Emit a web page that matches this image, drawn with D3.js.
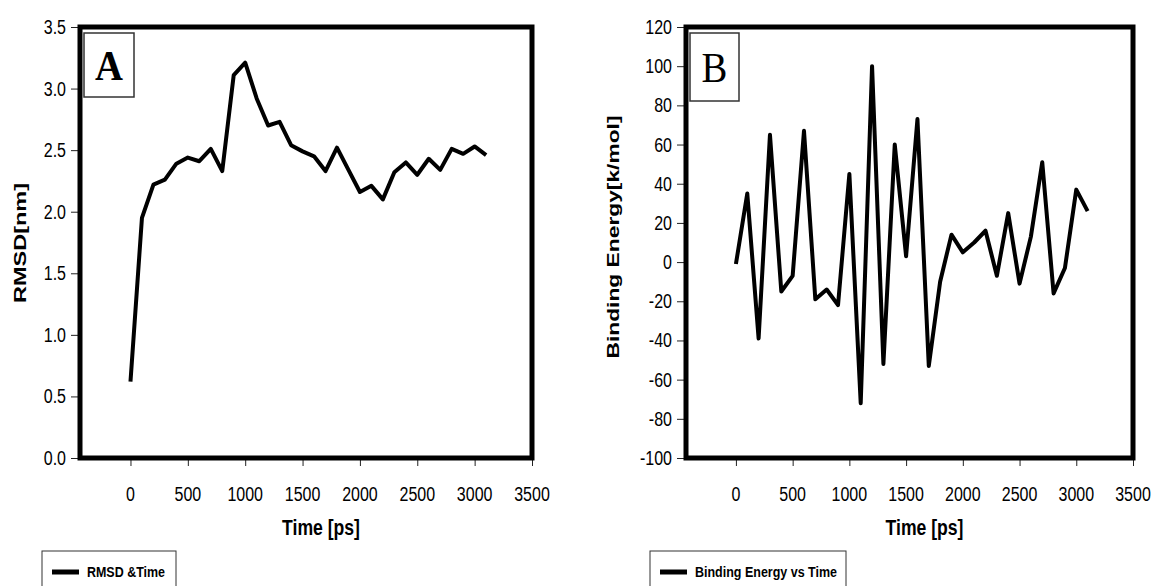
<!DOCTYPE html>
<html lang="en">
<head>
  <meta charset="UTF-8">
  <title>RMSD and Binding Energy vs Time</title>
  <script src="https://cdn.jsdelivr.net/npm/d3@7/dist/d3.min.js"></script>
  <style>
    body {
      margin: 0;
      background: #fff;
    }
    svg text {
      font-family: "Liberation Sans", Arial, sans-serif;
      fill: #000;
    }
  </style>
</head>
<body>
  <svg id="chart" width="1155" height="586"></svg>

  <script>
    // simulation time (ps)
    const timePs = [0, 100, 200, 300, 400, 500, 600, 700, 800, 900, 1000, 1100, 1200, 1300, 1400, 1500,
      1600, 1700, 1800, 1900, 2000, 2100, 2200, 2300, 2400, 2500, 2600, 2700, 2800, 2900, 3000, 3100];

    // panel A - RMSD (nm)
    const rmsd = [0.62, 1.95, 2.22, 2.26, 2.39, 2.44, 2.41, 2.51, 2.33, 3.11, 3.21, 2.92, 2.70, 2.73, 2.54, 2.49,
      2.45, 2.33, 2.52, 2.34, 2.16, 2.21, 2.10, 2.32, 2.40, 2.30, 2.43, 2.34, 2.51, 2.47, 2.53, 2.46];

    // panel B - binding energy (k/mol)
    const energy = [-1, 35, -39, 65, -15, -7, 67, -19, -14, -22, 45, -72, 100, -52, 60, 3,
      73, -53, -10, 14, 5, 10, 16, -7, 25, -11, 13, 51, -16, -3, 37, 26];

    // tick labels
    const xTicks = [0, 500, 1000, 1500, 2000, 2500, 3000, 3500];
    const rmsdTicks = [0, 0.5, 1.0, 1.5, 2.0, 2.5, 3.0, 3.5];
    const energyTicks = [-100, -80, -60, -40, -20, 0, 20, 40, 60, 80, 100, 120];

    const svg = d3.select("#chart");
    const squeeze = 0.8; // the original text is narrow (Arial Narrow look)

    function drawPanel(p) {
      const g = svg.append("g");

      const x = d3.scaleLinear().domain([-440, 3500]).range([p.left, p.right]);
      const y = d3.scaleLinear().domain(d3.extent(p.yTicks)).range([p.bottom, p.top]);

      // tick marks from the axis generators (labels drawn separately below)
      g.append("g")
        .attr("transform", `translate(0,${p.bottom + 2})`)
        .call(d3.axisBottom(x).tickValues(xTicks).tickSize(6).tickFormat(""))
        .call(a => a.select(".domain").remove())
        .selectAll("line").attr("stroke", "#222");

      g.append("g")
        .attr("transform", `translate(${p.left - 2},0)`)
        .call(d3.axisLeft(y).tickValues(p.yTicks).tickSize(7).tickFormat(""))
        .call(a => a.select(".domain").remove())
        .selectAll("line").attr("stroke", "#222");

      // x tick labels
      g.selectAll(".xlab")
        .data(xTicks)
        .join("text")
        .attr("class", "xlab")
        .attr("transform", d => `translate(${x(d)},501) scale(${squeeze},1)`)
        .attr("text-anchor", "middle")
        .style("font-size", "20px")
        .text(d => d);

      // y tick labels
      g.selectAll(".ylab")
        .data(p.yTicks)
        .join("text")
        .attr("class", "ylab")
        .attr("transform", d => `translate(${p.left - 14},${y(d) + 7}) scale(${squeeze},1)`)
        .attr("text-anchor", "end")
        .style("font-size", "20px")
        .text(p.fmt);

      // data line
      g.append("path")
        .datum(timePs.map((t, i) => [t, p.values[i]]))
        .attr("fill", "none")
        .attr("stroke", "#000")
        .attr("stroke-width", 4)
        .attr("stroke-linejoin", "round")
        .attr("d", d3.line().x(d => x(d[0])).y(d => y(d[1])));

      // heavy plot-area frame
      g.append("rect")
        .attr("x", p.left)
        .attr("y", p.top)
        .attr("width", p.right - p.left)
        .attr("height", p.bottom - p.top)
        .attr("fill", "none")
        .attr("stroke", "#000")
        .attr("stroke-width", 5);

      // panel letter box
      g.append("rect")
        .attr("x", p.left + 4)
        .attr("y", p.top + 6)
        .attr("width", p.boxW)
        .attr("height", p.boxH)
        .attr("fill", "#fff")
        .attr("stroke", "#333")
        .attr("stroke-width", 1.5);
      g.append("text")
        .attr("transform", `translate(${p.left + 4 + p.boxW / 2},${p.top + 6 + p.boxH / 2 + 15}) scale(0.9,1)`)
        .attr("text-anchor", "middle")
        .style("font-family", "'Liberation Serif', 'Times New Roman', serif")
        .style("font-size", "43px")
        .style("font-weight", p.letterWeight)
        .text(p.letter);

      // axis titles
      g.append("text")
        .attr("transform", `translate(${(p.left + p.right) / 2 + 15},535) scale(${squeeze},1)`)
        .attr("text-anchor", "middle")
        .style("font-size", "22px")
        .style("font-weight", "bold")
        .text("Time [ps]");

      g.append("text")
        .attr("transform", `translate(${p.yTitleX},${p.yTitleY}) rotate(-90) scale(1,${squeeze})`)
        .attr("text-anchor", "middle")
        .attr("dominant-baseline", "central")
        .attr("textLength", p.yTitleLen)
        .attr("lengthAdjust", "spacingAndGlyphs")
        .style("font-size", "20px")
        .style("font-weight", "bold")
        .text(p.yTitle);

      // legend
      const lg = g.append("g").attr("transform", `translate(${p.legX},551)`);
      lg.append("rect")
        .attr("x", 0).attr("y", 0)
        .attr("width", p.legW).attr("height", 60)
        .attr("fill", "#fff")
        .attr("stroke", "#333")
        .attr("stroke-width", 1);
      lg.append("line")
        .attr("x1", 10).attr("x2", 37)
        .attr("y1", 21).attr("y2", 21)
        .attr("stroke", "#000")
        .attr("stroke-width", 5);
      lg.append("text")
        .attr("x", 45).attr("y", 26)
        .attr("textLength", p.legTextLen)
        .attr("lengthAdjust", "spacingAndGlyphs")
        .style("font-size", "14px")
        .style("font-weight", "bold")
        .text(p.legend);
    }

    drawPanel({
      left: 80, right: 532, top: 27, bottom: 458,
      values: rmsd, yTicks: rmsdTicks, fmt: d => d.toFixed(1),
      letter: "A", letterWeight: "bold", boxW: 50, boxH: 64,
      yTitle: "RMSD[nm]", yTitleX: 21, yTitleY: 243, yTitleLen: 120,
      legend: "RMSD &Time", legX: 42, legW: 134, legTextLen: 78
    });

    drawPanel({
      left: 686, right: 1133, top: 27, bottom: 458,
      values: energy, yTicks: energyTicks, fmt: d => d,
      letter: "B", letterWeight: "normal", boxW: 49, boxH: 68,
      yTitle: "Binding Energy[k/mol]", yTitleX: 614, yTitleY: 237, yTitleLen: 243,
      legend: "Binding Energy vs Time", legX: 650, legW: 196, legTextLen: 142
    });
  </script>
</body>
</html>
